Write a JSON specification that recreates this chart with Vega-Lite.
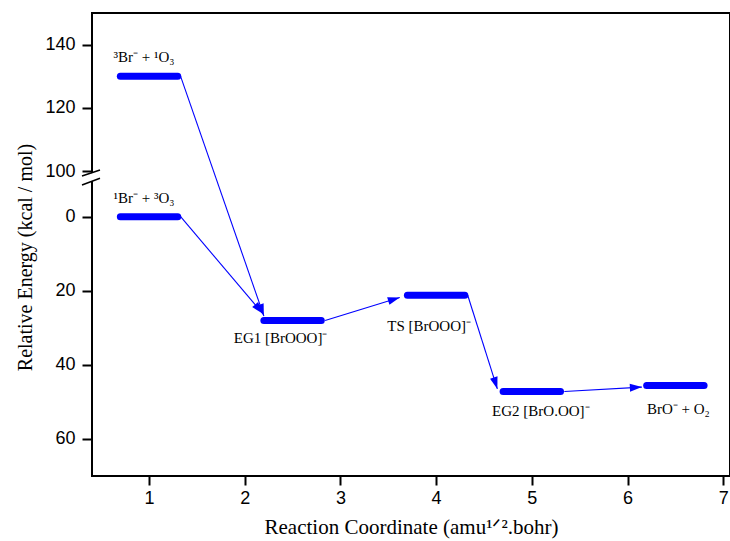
{
  "$schema": "https://vega.github.io/schema/vega-lite/v6.json",
  "autosize": {"type": "none"},
  "padding": {"left": 92, "top": 13, "right": 0, "bottom": 65},
  "width": 638,
  "height": 463,
  "background": "white",
  "config": {
    "view": {"stroke": "black", "strokeWidth": 2},
    "axis": {"grid": false, "domain": false, "tickColor": "black", "tickWidth": 2, "labelColor": "black", "titleColor": "black", "labelFont": "Liberation Sans", "labelFontSize": 18, "titleFont": "Liberation Serif", "titleFontWeight": "normal"}
  },
  "datasets": {
    "levels": [
      {"state": "3Br", "x1": 0.7, "x2": 1.3, "e": 130, "label": "³Br⁻ + ¹O₃"},
      {"state": "1Br", "x1": 0.7, "x2": 1.3, "e": 0, "label": "¹Br⁻ + ³O₃"},
      {"state": "EG1", "x1": 2.2, "x2": 2.8, "e": 28, "label": "EG1 [BrOOO]⁻"},
      {"state": "TS", "x1": 3.7, "x2": 4.3, "e": 21.2, "label": "TS [BrOOO]⁻"},
      {"state": "EG2", "x1": 4.7, "x2": 5.3, "e": 47.2, "label": "EG2 [BrO.OO]⁻"},
      {"state": "BrO", "x1": 6.2, "x2": 6.8, "e": 45.6, "label": "BrO⁻ + O₂"}
    ],
    "arrows": [
      {"id": "a1", "xs": 1.33, "es": 130, "xe": 2.2, "ee": 26.8},
      {"id": "a2", "xs": 1.33, "es": 0, "xe": 2.19, "ee": 26.2},
      {"id": "a3", "xs": 2.84, "es": 28, "xe": 3.62, "ee": 21.8},
      {"id": "a4", "xs": 4.33, "es": 21.2, "xe": 4.64, "ee": 46.5},
      {"id": "a5", "xs": 5.34, "es": 47.2, "xe": 6.15, "ee": 46.0}
    ]
  },
  "encoding": {
    "x": {"type": "quantitative", "scale": {"domain": [0.404, 7.071], "nice": false, "zero": false},
      "axis": {"values": [1, 2, 3, 4, 5, 6, 7], "tickSize": 9, "labelPadding": 4, "title": "Reaction Coordinate (amu¹ᐟ².bohr)", "titleFontSize": 21, "titleBaseline": "alphabetic", "titleY": 57}},
    "y": {"type": "quantitative", "scale": {"domain": [-0.001, 0, 70, 100, 150], "range": [463, 203.7, 463, 158.3, 0], "nice": false, "zero": false},
      "axis": {"values": [0, 20, 40, 60, 100, 120, 140], "tickSize": 10, "labelPadding": 7, "labelOverlap": false, "title": "Relative Energy (kcal / mol)", "titleFontSize": 20, "titleBaseline": "alphabetic", "titleX": -61, "titleY": 244}}
  },
  "layer": [
    {"data": {"name": "arrows"}, "mark": {"type": "rule", "color": "#0000ff", "strokeWidth": 1.1},
      "encoding": {"x": {"field": "xs"}, "y": {"field": "es"}, "x2": {"field": "xe"}, "y2": {"field": "ee"}}},
    {"data": {"name": "levels"}, "mark": {"type": "rule", "color": "#0000ff", "strokeWidth": 7, "strokeCap": "round"},
      "encoding": {"x": {"field": "x1"}, "x2": {"field": "x2"}, "y": {"field": "e"}}},
    {"data": {"name": "arrows"}, "transform": [{"filter": "datum.id == 'a1'"}], "mark": {"type": "point", "shape": "M0,0L0.65,2L-0.65,2Z", "size": 144, "filled": true, "color": "#0000ff", "opacity": 1, "angle": 160.8},
      "encoding": {"x": {"field": "xe"}, "y": {"field": "ee"}}},
    {"data": {"name": "arrows"}, "transform": [{"filter": "datum.id == 'a2'"}], "mark": {"type": "point", "shape": "M0,0L0.65,2L-0.65,2Z", "size": 144, "filled": true, "color": "#0000ff", "opacity": 1, "angle": 139.7},
      "encoding": {"x": {"field": "xe"}, "y": {"field": "ee"}}},
    {"data": {"name": "arrows"}, "transform": [{"filter": "datum.id == 'a3'"}], "mark": {"type": "point", "shape": "M0,0L0.65,2L-0.65,2Z", "size": 144, "filled": true, "color": "#0000ff", "opacity": 1, "angle": 72.9},
      "encoding": {"x": {"field": "xe"}, "y": {"field": "ee"}}},
    {"data": {"name": "arrows"}, "transform": [{"filter": "datum.id == 'a4'"}], "mark": {"type": "point", "shape": "M0,0L0.65,2L-0.65,2Z", "size": 144, "filled": true, "color": "#0000ff", "opacity": 1, "angle": 162.6},
      "encoding": {"x": {"field": "xe"}, "y": {"field": "ee"}}},
    {"data": {"name": "arrows"}, "transform": [{"filter": "datum.id == 'a5'"}], "mark": {"type": "point", "shape": "M0,0L0.65,2L-0.65,2Z", "size": 144, "filled": true, "color": "#0000ff", "opacity": 1, "angle": 86.8},
      "encoding": {"x": {"field": "xe"}, "y": {"field": "ee"}}},
    {"data": {"name": "levels"}, "transform": [{"filter": "datum.state == '3Br' || datum.state == '1Br'"}, {"calculate": "(datum.x1 + datum.x2) / 2", "as": "xc"}],
      "mark": {"type": "text", "font": "Liberation Serif", "fontSize": 15, "color": "black", "baseline": "middle", "dx": -5, "dy": -19},
      "encoding": {"x": {"field": "xc"}, "y": {"field": "e"}, "text": {"field": "label"}}},
    {"data": {"name": "levels"}, "transform": [{"filter": "datum.state == 'EG1'"}, {"calculate": "(datum.x1 + datum.x2) / 2", "as": "xc"}],
      "mark": {"type": "text", "font": "Liberation Serif", "fontSize": 15, "color": "black", "baseline": "middle", "dx": -12, "dy": 18},
      "encoding": {"x": {"field": "xc"}, "y": {"field": "e"}, "text": {"field": "label"}}},
    {"data": {"name": "levels"}, "transform": [{"filter": "datum.state == 'TS'"}, {"calculate": "(datum.x1 + datum.x2) / 2", "as": "xc"}],
      "mark": {"type": "text", "font": "Liberation Serif", "fontSize": 15, "color": "black", "baseline": "middle", "dx": -7, "dy": 31},
      "encoding": {"x": {"field": "xc"}, "y": {"field": "e"}, "text": {"field": "label"}}},
    {"data": {"name": "levels"}, "transform": [{"filter": "datum.state == 'EG2'"}, {"calculate": "(datum.x1 + datum.x2) / 2", "as": "xc"}],
      "mark": {"type": "text", "font": "Liberation Serif", "fontSize": 15, "color": "black", "baseline": "middle", "dx": 9, "dy": 19},
      "encoding": {"x": {"field": "xc"}, "y": {"field": "e"}, "text": {"field": "label"}}},
    {"data": {"name": "levels"}, "transform": [{"filter": "datum.state == 'BrO'"}, {"calculate": "(datum.x1 + datum.x2) / 2", "as": "xc"}],
      "mark": {"type": "text", "font": "Liberation Serif", "fontSize": 15, "color": "black", "baseline": "middle", "dx": 3, "dy": 23},
      "encoding": {"x": {"field": "xc"}, "y": {"field": "e"}, "text": {"field": "label"}}},
    {"data": {"values": [{}]}, "mark": {"type": "point", "shape": "M-3,2.6L3,0.6L3,8.6L-3,10.9Z", "size": 4, "filled": true, "fill": "white", "opacity": 1, "strokeWidth": 0},
      "encoding": {"x": {"datum": 0.404}, "y": {"datum": 100}}},
    {"data": {"values": [{}]}, "mark": {"type": "point", "shape": "M-10,4.7L8,-1.3M-10,13.7L8,7", "size": 4, "filled": false, "stroke": "black", "strokeWidth": 1.5, "opacity": 1},
      "encoding": {"x": {"datum": 0.404}, "y": {"datum": 100}}}
  ]
}
